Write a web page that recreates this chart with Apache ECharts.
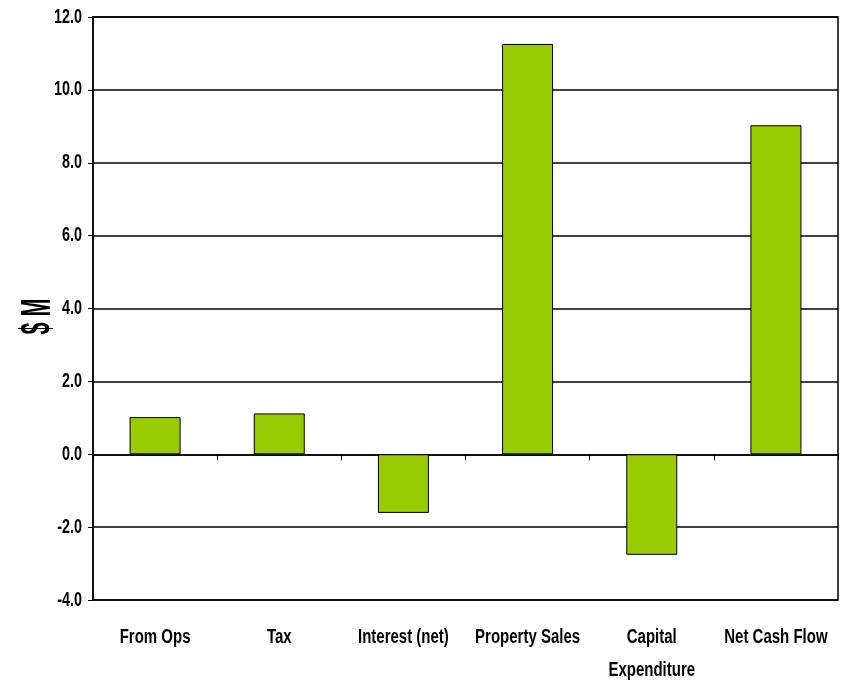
<!DOCTYPE html>
<html>
<head>
<meta charset="utf-8">
<script src="https://cdn.jsdelivr.net/npm/echarts@6/dist/echarts.min.js"></script>
<style>html,body{margin:0;padding:0;background:#fff;}#c{width:845px;height:685px;}</style>
</head>
<body>
<div id="c"></div>
<script>
var categories = ['From Ops', 'Tax', 'Interest (net)', 'Property Sales', 'Capital\nExpenditure', 'Net Cash Flow'];
var values = [1.02, 1.12, -1.61, 11.26, -2.76, 9.03];
var yTicks = [-4, -2, 0, 2, 4, 6, 8, 10, 12];
var yTitle = '$ M';

var FONT = '"Liberation Sans", Arial, sans-serif';
var chart = echarts.init(document.getElementById('c'), null, {renderer: 'canvas'});
chart.setOption({
  animation: false,
  backgroundColor: '#ffffff',
  grid: {left: 93, right: 7, top: 17, bottom: 85, show: true, borderColor: '#000', borderWidth: 1.5, backgroundColor: 'transparent'},
  xAxis: [{
    type: 'category', data: categories, position: 'bottom',
    axisLine: {show: false, onZero: false},
    axisTick: {show: false},
    axisLabel: {show: false}
  }, {
    type: 'category', data: categories, position: 'bottom',
    axisLine: {show: true, onZero: true, lineStyle: {color: '#000', width: 1.5}},
    axisTick: {show: true, inside: false, length: 6, lineStyle: {color: '#000', width: 1}},
    axisLabel: {show: false}
  }],
  yAxis: {
    type: 'value', min: yTicks[0], max: yTicks[yTicks.length - 1], interval: 2,
    axisLine: {show: true, lineStyle: {color: '#000', width: 1.5}},
    axisTick: {show: true, length: 5, lineStyle: {color: '#000', width: 1}},
    axisLabel: {show: false},
    splitLine: {show: true, lineStyle: {color: '#000', width: 1.5}}
  },
  series: [{
    type: 'bar', xAxisIndex: 0, data: values, barWidth: 51,
    itemStyle: {color: '#99CC00', borderColor: '#000', borderWidth: 1}
  }]
});

// Condensed bold labels (emulating Arial Narrow Bold), positioned through the chart's own scales
var g = [];
var bottomY = chart.convertToPixel({yAxisIndex: 0}, yTicks[0]);
var leftX = chart.convertToPixel({xAxisIndex: 0}, 0) - (chart.convertToPixel({xAxisIndex: 0}, 1) - chart.convertToPixel({xAxisIndex: 0}, 0)) / 2;
yTicks.forEach(function (v) {
  g.push({
    type: 'text', x: leftX - 11, y: chart.convertToPixel({yAxisIndex: 0}, v), scaleX: 0.72, scaleY: 1,
    style: {text: v.toFixed(1), font: 'bold 20px ' + FONT, fill: '#000', textAlign: 'right', textVerticalAlign: 'middle'}
  });
});
categories.forEach(function (c, i) {
  var cx = chart.convertToPixel({xAxisIndex: 0}, i);
  c.split('\n').forEach(function (line, k) {
    g.push({
      type: 'text', x: cx, y: bottomY + 37 + k * 33, scaleX: 0.75, scaleY: 1,
      style: {text: line, font: 'bold 20px ' + FONT, fill: '#000', textAlign: 'center', textVerticalAlign: 'middle'}
    });
  });
});
var topY = chart.convertToPixel({yAxisIndex: 0}, yTicks[yTicks.length - 1]);
g.push({
  type: 'text', x: 38, y: (topY + bottomY) / 2 + 8, rotation: Math.PI / 2, scaleX: 0.5, scaleY: 1,
  style: {text: yTitle, font: 'bold 43px ' + FONT, fill: '#000', textAlign: 'center', textVerticalAlign: 'middle'}
});
chart.setOption({graphic: {elements: g}});
</script>
</body>
</html>
